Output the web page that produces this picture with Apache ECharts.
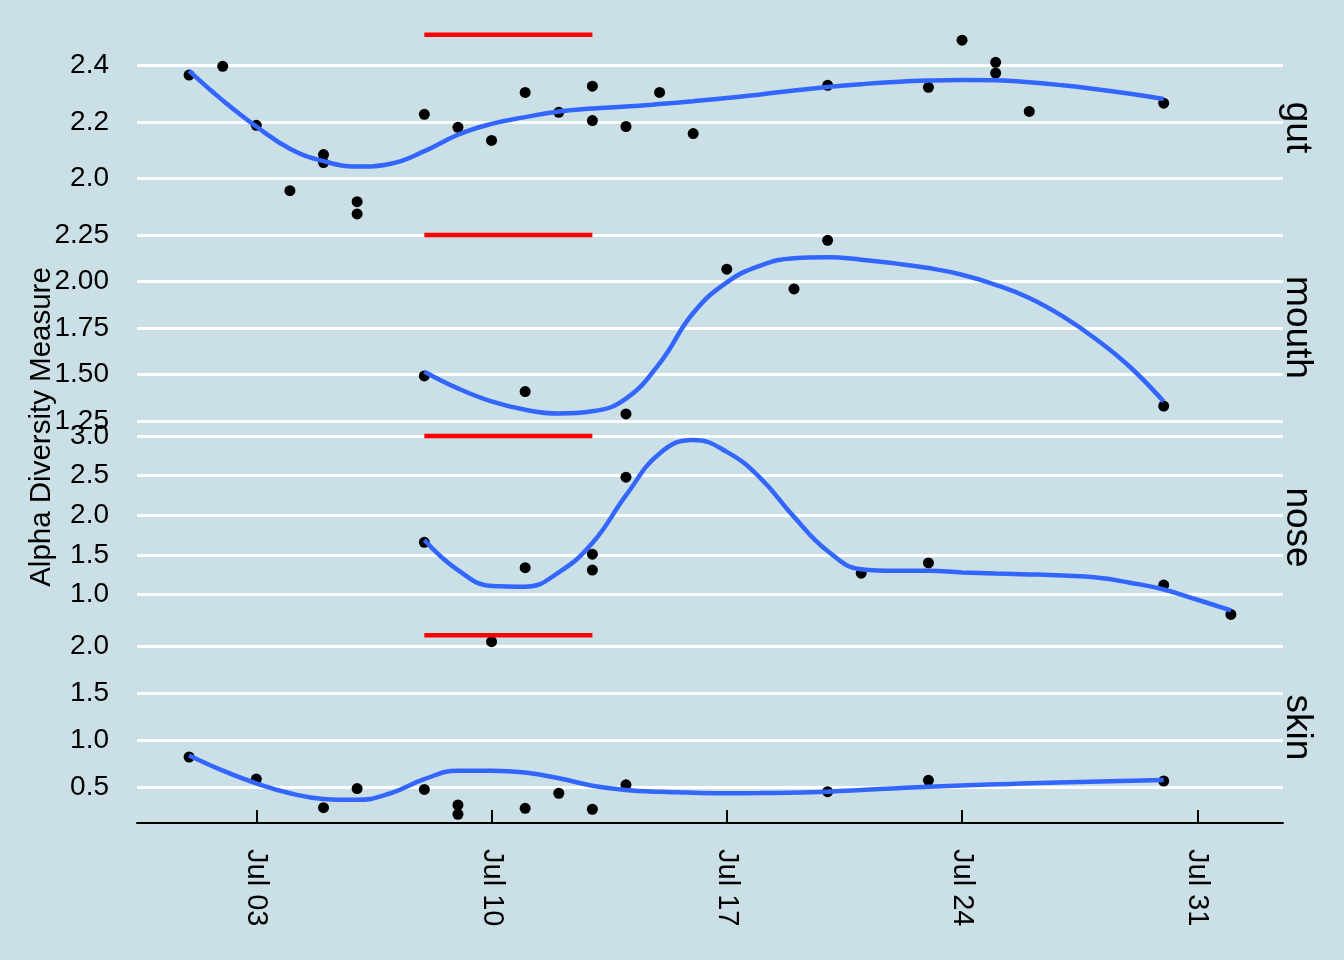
<!DOCTYPE html>
<html>
<head>
<meta charset="utf-8">
<script src="https://cdn.jsdelivr.net/npm/echarts@6/dist/echarts.min.js"></script>
<style>
html,body{margin:0;padding:0;background:#cbdfe6;}
#chart{width:1344px;height:960px;}
</style>
</head>
<body>
<div id="chart"></div>
<script>
// ---------------- DATA ----------------
const panels = ['gut', 'mouth', 'nose', 'skin'];

const gutPointDates = ['2013-07-01','2013-07-02','2013-07-03','2013-07-04','2013-07-05','2013-07-05','2013-07-06','2013-07-06','2013-07-08','2013-07-09','2013-07-10','2013-07-11','2013-07-12','2013-07-13','2013-07-13','2013-07-14','2013-07-15','2013-07-16','2013-07-20','2013-07-23','2013-07-24','2013-07-25','2013-07-25','2013-07-26','2013-07-30'];
const gutPointValues = [2.365,2.396,2.188,1.958,2.085,2.057,1.919,1.876,2.227,2.181,2.135,2.304,2.234,2.326,2.205,2.184,2.304,2.159,2.329,2.322,2.488,2.410,2.372,2.237,2.266];
const gutSmoothDates = ['2013-07-01','2013-07-02','2013-07-03','2013-07-04','2013-07-05','2013-07-06','2013-07-07','2013-07-08','2013-07-09','2013-07-10','2013-07-11','2013-07-12','2013-07-13','2013-07-14','2013-07-15','2013-07-16','2013-07-17','2013-07-18','2013-07-19','2013-07-20','2013-07-21','2013-07-22','2013-07-23','2013-07-24','2013-07-25','2013-07-26','2013-07-27','2013-07-28','2013-07-29','2013-07-30'];
const gutSmoothValues = [2.380,2.276,2.184,2.106,2.062,2.043,2.053,2.097,2.155,2.193,2.217,2.237,2.247,2.254,2.263,2.273,2.284,2.297,2.311,2.323,2.333,2.341,2.346,2.348,2.347,2.340,2.329,2.315,2.299,2.281];

const mouthPointDates = ['2013-07-08','2013-07-11','2013-07-14','2013-07-17','2013-07-19','2013-07-20','2013-07-30'];
const mouthPointValues = [1.492,1.408,1.288,2.066,1.960,2.221,1.330];
const mouthSmoothDates = ['2013-07-08','2013-07-09','2013-07-10','2013-07-11','2013-07-12','2013-07-13','2013-07-14','2013-07-15','2013-07-16','2013-07-17','2013-07-18','2013-07-19','2013-07-20','2013-07-21','2013-07-22','2013-07-23','2013-07-24','2013-07-25','2013-07-26','2013-07-27','2013-07-28','2013-07-29','2013-07-30'];
const mouthSmoothValues = [1.515,1.425,1.355,1.310,1.290,1.302,1.370,1.560,1.830,1.995,2.085,2.125,2.130,2.117,2.097,2.072,2.036,1.982,1.911,1.812,1.688,1.540,1.354];

const nosePointDates = ['2013-07-08','2013-07-11','2013-07-13','2013-07-13','2013-07-14','2013-07-21','2013-07-23','2013-07-30','2013-08-01'];
const nosePointValues = [1.66,1.34,1.51,1.31,2.48,1.27,1.40,1.12,0.75];
const noseSmoothDates = ['2013-07-08','2013-07-09','2013-07-10','2013-07-11','2013-07-12','2013-07-13','2013-07-14','2013-07-15','2013-07-16','2013-07-17','2013-07-18','2013-07-19','2013-07-20','2013-07-21','2013-07-22','2013-07-23','2013-07-24','2013-07-25','2013-07-26','2013-07-27','2013-07-28','2013-07-29','2013-07-30','2013-07-31','2013-08-01'];
const noseSmoothValues = [1.69,1.31,1.11,1.10,1.28,1.65,2.25,2.78,2.95,2.80,2.47,1.98,1.55,1.32,1.30,1.30,1.28,1.265,1.255,1.24,1.215,1.15,1.065,0.935,0.80];

const skinPointDates = ['2013-07-01','2013-07-03','2013-07-05','2013-07-06','2013-07-08','2013-07-09','2013-07-09','2013-07-10','2013-07-11','2013-07-12','2013-07-13','2013-07-14','2013-07-20','2013-07-23','2013-07-30'];
const skinPointValues = [0.825,0.590,0.287,0.490,0.480,0.315,0.217,2.050,0.280,0.440,0.270,0.530,0.457,0.577,0.570];
const skinSmoothDates = ['2013-07-01','2013-07-02','2013-07-03','2013-07-04','2013-07-05','2013-07-06','2013-07-07','2013-07-08','2013-07-09','2013-07-10','2013-07-11','2013-07-12','2013-07-13','2013-07-14','2013-07-15','2013-07-16','2013-07-17','2013-07-18','2013-07-20','2013-07-23','2013-07-26','2013-07-30'];
const skinSmoothValues = [0.84,0.68,0.545,0.44,0.38,0.37,0.44,0.59,0.68,0.68,0.66,0.60,0.52,0.475,0.455,0.445,0.44,0.442,0.457,0.51,0.545,0.58];

// red bar (treatment period) per panel
const periodDates = ['2013-07-08', '2013-07-13'];
const periodLevels = [2.507, 2.25, 3.0, 2.117];

// axis tick labels
const xTickDates = ['2013-07-03','2013-07-10','2013-07-17','2013-07-24','2013-07-31'];
const gutTicks = ['2.0','2.2','2.4'];
const mouthTicks = ['1.25','1.50','1.75','2.00','2.25'];
const noseTicks = ['1.0','1.5','2.0','2.5','3.0'];
const skinTicks = ['0.5','1.0','1.5','2.0'];

// y ranges (data range with 5% padding)
const yRanges = [[1.844, 2.538], [1.239, 2.298], [0.642, 3.126], [0.124, 2.216]];

// ---------------- BUILD ----------------
function toTime(s) { const p = s.split('-').map(Number); return new Date(p[0], p[1]-1, p[2]).getTime(); }
const DAY = 86400000;
const xMin = toTime('2013-07-01') - 1.55 * DAY;
const xMax = toTime('2013-08-01') + 1.55 * DAY;
const months = ['Jan','Feb','Mar','Apr','May','Jun','Jul','Aug','Sep','Oct','Nov','Dec'];

const pointSets = [
  [gutPointDates, gutPointValues], [mouthPointDates, mouthPointValues],
  [nosePointDates, nosePointValues], [skinPointDates, skinPointValues]
];
const smoothSets = [
  [gutSmoothDates, gutSmoothValues], [mouthSmoothDates, mouthSmoothValues],
  [noseSmoothDates, noseSmoothValues], [skinSmoothDates, skinSmoothValues]
];
const tickSets = [gutTicks, mouthTicks, noseTicks, skinTicks];

const FONT = '"Liberation Sans", Arial, Helvetica, sans-serif';
const gridTops = [26, 226, 426, 626];
const gridH = 197;
const gridLeft = 137, gridRight = 61;

const grids = [], xAxes = [], yAxes = [], series = [], graphics = [];
panels.forEach((name, i) => {
  grids.push({ left: gridLeft, right: gridRight, top: gridTops[i], height: gridH });
  const bottom = i === panels.length - 1;
  xAxes.push({
    type: 'value', gridIndex: i, min: xMin, max: xMax, show: bottom,
    axisLine: { show: bottom, onZero: false, lineStyle: { color: '#000', width: 2 } },
    axisTick: { show: bottom, inside: true, length: 13, lineStyle: { color: '#000', width: 2 },
      customValues: xTickDates.map(toTime) },
    axisLabel: { show: bottom, rotate: -90, margin: 26, fontSize: 29, fontFamily: FONT, color: '#000',
      customValues: xTickDates.map(toTime),
      formatter: v => { const d = new Date(v); return months[d.getMonth()] + ' ' + String(d.getDate()).padStart(2, '0'); } },
    splitLine: { show: false }
  });
  const ticks = tickSets[i];
  const dec = (ticks[0].split('.')[1] || '').length;
  yAxes.push({
    type: 'value', gridIndex: i, min: yRanges[i][0], max: yRanges[i][1],
    axisLine: { show: false },
    axisTick: { show: false, customValues: ticks.map(Number) },
    axisLabel: { margin: 28, fontSize: 28, fontFamily: FONT, color: '#000',
      customValues: ticks.map(Number), formatter: v => Number(v).toFixed(dec) },
    splitLine: { show: true, lineStyle: { color: '#ffffff', width: 3 } }
  });
  const [pd, pv] = pointSets[i];
  series.push({
    type: 'scatter', xAxisIndex: i, yAxisIndex: i, z: 2,
    symbol: 'circle', symbolSize: 11, itemStyle: { color: '#000', opacity: 1 },
    data: pd.map((d, k) => [toTime(d), pv[k]])
  });
  const [sd, sv] = smoothSets[i];
  series.push({
    type: 'line', xAxisIndex: i, yAxisIndex: i, z: 3, smooth: 0.45,
    showSymbol: false, symbol: 'none', lineStyle: { color: '#3366FF', width: 4.5 },
    data: sd.map((d, k) => [toTime(d), sv[k]])
  });
  series.push({
    type: 'line', xAxisIndex: i, yAxisIndex: i, z: 4,
    showSymbol: false, symbol: 'none', lineStyle: { color: '#FF0000', width: 4.5, cap: 'butt' },
    data: periodDates.map(d => [toTime(d), periodLevels[i]])
  });
  graphics.push({
    type: 'text', x: 1297, y: gridTops[i] + gridH / 2 + 3, rotation: -Math.PI / 2,
    style: { text: name, font: '37px ' + FONT, fill: '#000', textAlign: 'center', textVerticalAlign: 'middle' }
  });
});
graphics.push({
  type: 'text', x: 42, y: 427, rotation: Math.PI / 2,
  style: { text: 'Alpha Diversity Measure', font: '29.5px ' + FONT, fill: '#000', textAlign: 'center', textVerticalAlign: 'middle' }
});

const chart = echarts.init(document.getElementById('chart'), null, { renderer: 'canvas' });
chart.setOption({
  backgroundColor: '#cbdfe6',
  animation: false,
  grid: grids,
  xAxis: xAxes,
  yAxis: yAxes,
  series: series,
  graphic: graphics
});
</script>
</body>
</html>
